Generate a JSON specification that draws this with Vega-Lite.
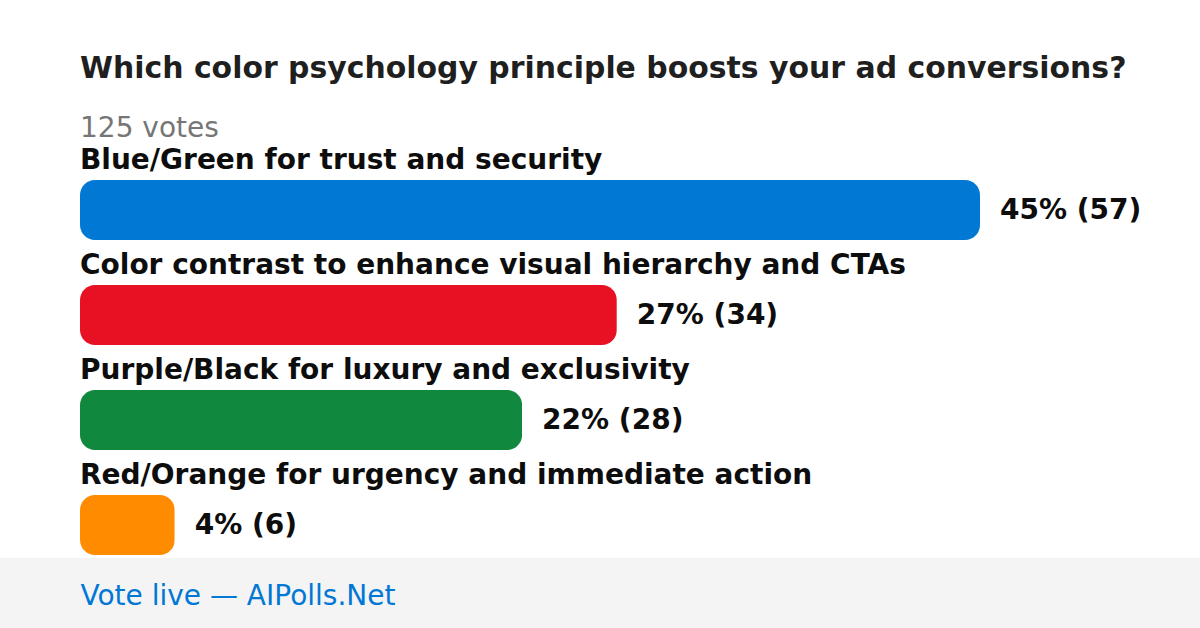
{
  "$schema": "https://vega.github.io/schema/vega-lite/v6.json",
  "width": 1200,
  "height": 628,
  "autosize": {"type": "fit", "contains": "padding"},
  "padding": {"left": 0, "right": 0, "top": 0, "bottom": 18},
  "background": "#f4f4f4",
  "config": {"view": {"fill": "white", "stroke": null}, "font": "DejaVu Sans"},
  "title": {
    "text": "Which color psychology principle boosts your ad conversions?",
    "subtitle": "125 votes",
    "anchor": "start",
    "frame": "group",
    "dx": 80,
    "offset": -143,
    "subtitlePadding": 31,
    "font": "DejaVu Sans",
    "fontSize": 29.9,
    "fontWeight": "bold",
    "color": "#1f1f1f",
    "subtitleFont": "DejaVu Sans",
    "subtitleFontSize": 28,
    "subtitleColor": "#767676"
  },
  "data": {
    "values": [
      {"option": "Blue/Green for trust and security", "votes": 57, "label": "45% (57)"},
      {"option": "Color contrast to enhance visual hierarchy and CTAs", "votes": 34, "label": "27% (34)"},
      {"option": "Purple/Black for luxury and exclusivity", "votes": 28, "label": "22% (28)"},
      {"option": "Red/Orange for urgency and immediate action", "votes": 6, "label": "4% (6)"}
    ]
  },
  "encoding": {
    "y": {
      "field": "option",
      "type": "nominal",
      "sort": null,
      "scale": {"range": [180, 555], "paddingInner": 0.428571, "paddingOuter": 0},
      "axis": null
    }
  },
  "layer": [
    {
      "mark": {"type": "bar", "cornerRadius": 15},
      "encoding": {
        "x": {
          "field": "votes",
          "type": "quantitative",
          "scale": {"domain": [0, 57], "range": [80, 980], "nice": false, "zero": true},
          "axis": {
            "title": "Vote live — AIPolls.Net",
            "labels": false, "ticks": false, "domain": false, "grid": false,
            "titleX": 80, "titleY": 46, "titleAlign": "left", "titleAnchor": "start",
            "titleBaseline": "alphabetic", "titleFont": "DejaVu Sans", "titleFontSize": 28,
            "titleFontWeight": "normal", "titleColor": "#0078d4"
          }
        },
        "color": {
          "field": "option",
          "type": "nominal",
          "scale": {
            "domain": [
              "Blue/Green for trust and security",
              "Color contrast to enhance visual hierarchy and CTAs",
              "Purple/Black for luxury and exclusivity",
              "Red/Orange for urgency and immediate action"
            ],
            "range": ["#0078d4", "#e81123", "#10893e", "#ff8c00"]
          },
          "legend": null
        }
      }
    },
    {
      "mark": {"type": "text", "align": "left", "baseline": "alphabetic", "dy": -41, "fontSize": 28, "fontWeight": "bold", "color": "#0d0d0d", "font": "DejaVu Sans"},
      "encoding": {
        "x": {"datum": 0, "type": "quantitative"},
        "text": {"field": "option"}
      }
    },
    {
      "mark": {"type": "text", "align": "left", "baseline": "alphabetic", "dx": 20, "dy": 9, "fontSize": 28, "fontWeight": "bold", "color": "#0d0d0d", "font": "DejaVu Sans"},
      "encoding": {
        "x": {"field": "votes", "type": "quantitative"},
        "text": {"field": "label"}
      }
    }
  ]
}
